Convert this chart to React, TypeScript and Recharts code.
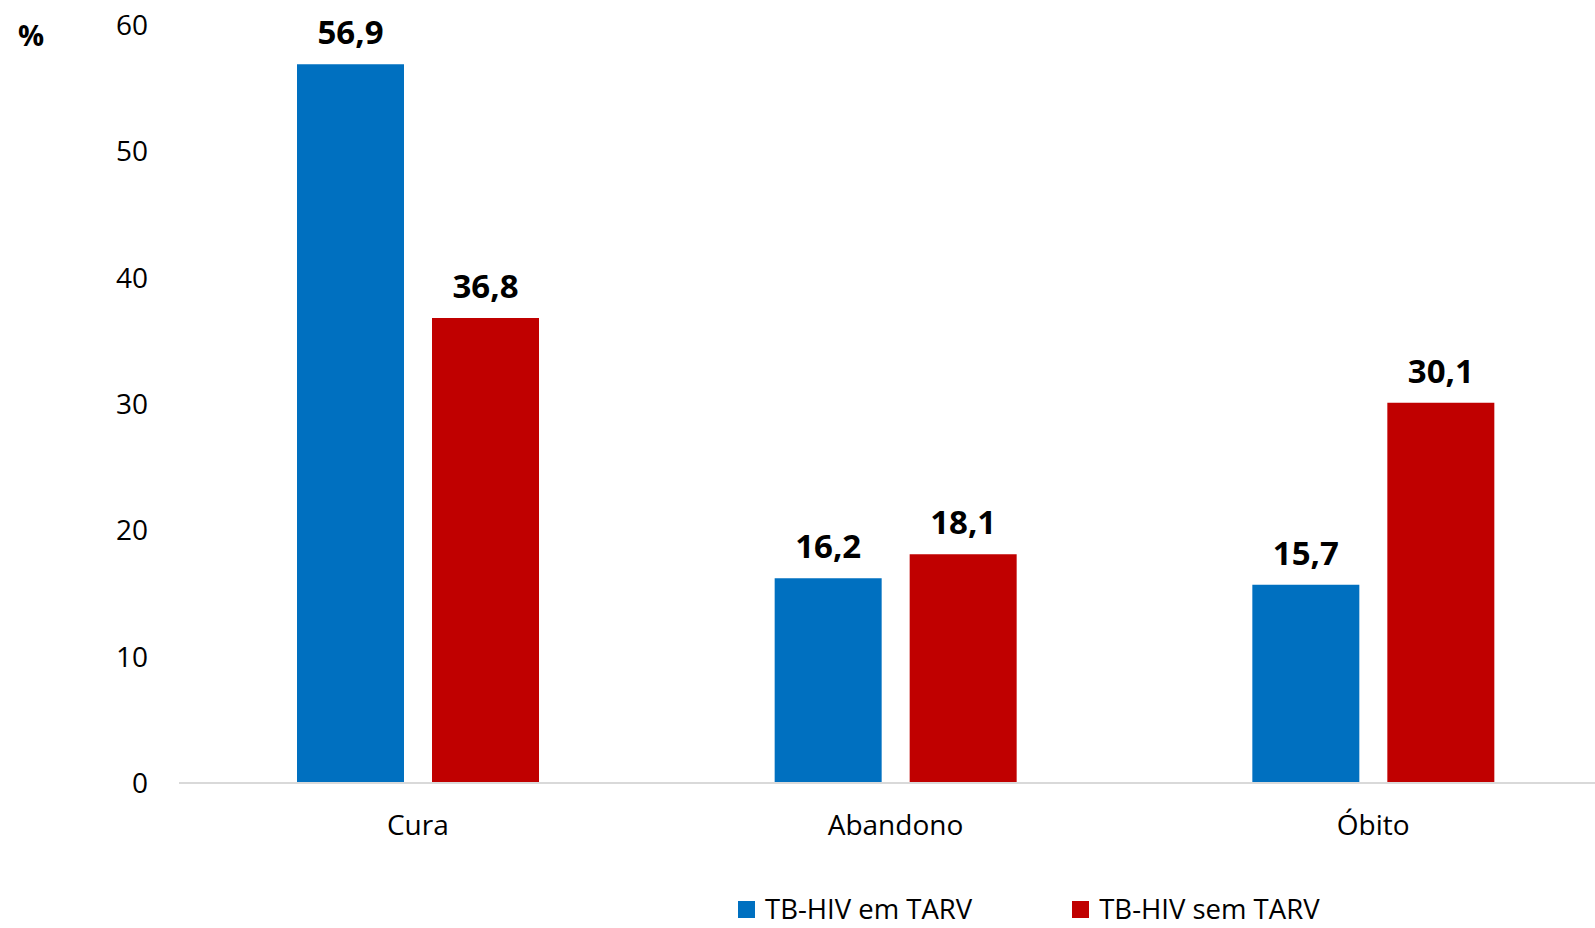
import React from "react";
import { BarChart, Bar, XAxis, YAxis, Legend, LabelList, ReferenceLine } from "recharts";

const categories = ["Cura", "Abandono", "Óbito"];
const emTarv = [56.9, 16.2, 15.7];
const semTarv = [36.8, 18.1, 30.1];
const yTicks = [0, 10, 20, 30, 40, 50, 60];

const BLUE = "#0070C0";
const RED = "#C00000";
const FONT = "'Open Sans', 'Noto Sans', sans-serif";

const data = categories.map((c, i) => ({ name: c, em: emTarv[i], sem: semTarv[i] }));

const fmt = (v: any) => String(v).replace(".", ",");

function LegendContent() {
  const items = [
    { label: "TB-HIV em TARV", color: BLUE },
    { label: "TB-HIV sem TARV", color: RED },
  ];
  return (
    <div style={{ display: "flex", alignItems: "center", height: 24, fontFamily: FONT, fontSize: 27.5, color: "#000" }}>
      {items.map((it, i) => (
        <div key={it.label} style={{ display: "flex", alignItems: "center", marginRight: i === 0 ? 100 : 0 }}>
          <span style={{ display: "block", width: 17, height: 17, background: it.color, marginRight: 10 }} />
          <span style={{ display: "block", height: 24, lineHeight: "24px", whiteSpace: "nowrap" }}>{it.label}</span>
        </div>
      ))}
    </div>
  );
}

export default function App() {
  return (
    <div style={{ position: "absolute", left: 0, top: 0, width: 1595, height: 928, overflow: "hidden", background: "#fff" }}>
      <BarChart
        width={1612}
        height={928}
        data={data}
        margin={{ top: 25, right: 0, left: 0, bottom: 61 }}
        barSize={107}
        barGap={28}
      >
        <YAxis
          width={179}
          domain={[0, 60]}
          ticks={yTicks}
          axisLine={false}
          tickLine={false}
          tickSize={0}
          tickMargin={31}
          tick={{ fontSize: 28, fill: "#000", fontFamily: FONT }}
          label={{
            content: () => (
              <text x={31} y={46} textAnchor="middle" fontSize={29} fontWeight="bold" fontFamily={FONT} fill="#000">
                %
              </text>
            ),
          }}
        />
        <XAxis
          dataKey="name"
          height={60}
          axisLine={false}
          tickLine={false}
          tickSize={0}
          tickMargin={32}
          tick={{ fontSize: 28, fill: "#000", fontFamily: FONT }}
        />
        <ReferenceLine y={0} stroke="#d9d9d9" strokeWidth={2} />
        <Legend
          verticalAlign="bottom"
          content={<LegendContent />}
          wrapperStyle={{ left: 738, top: 897, width: "auto" }}
        />
        <Bar dataKey="em" name="TB-HIV em TARV" fill={BLUE} isAnimationActive={false}>
          <LabelList dataKey="em" position="top" offset={20} formatter={fmt} fill="#000" fontSize={33} fontWeight="bold" fontFamily={FONT} />
        </Bar>
        <Bar dataKey="sem" name="TB-HIV sem TARV" fill={RED} isAnimationActive={false}>
          <LabelList dataKey="sem" position="top" offset={20} formatter={fmt} fill="#000" fontSize={33} fontWeight="bold" fontFamily={FONT} />
        </Bar>
      </BarChart>
    </div>
  );
}
